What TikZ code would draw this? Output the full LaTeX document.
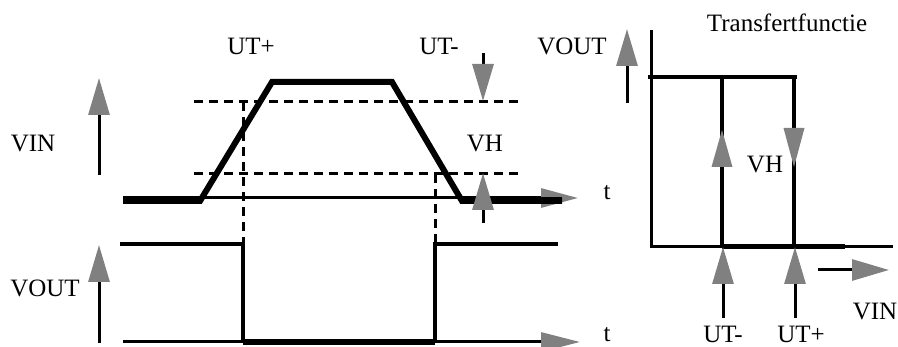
\documentclass[tikz,border=0pt]{standalone}
\usepackage{fontspec}
\setmainfont{Liberation Serif}
\usetikzlibrary{arrows.meta}
\definecolor{headgray}{RGB}{128,128,128}
\begin{document}
\begin{tikzpicture}[x=1pt,y=-1pt,
  lbl/.style={inner sep=0pt,anchor=base,font=\fontsize{25}{29}\selectfont},
  sig/.style={line width=6pt,line join=miter,line cap=butt},
  mid/.style={line width=4pt,line cap=butt},
  thin/.style={line width=3pt},
  dsh/.style={line width=3pt,dash pattern=on 9pt off 6pt},
  garrow/.style={line width=3pt,-{Triangle[length=37pt,width=21pt,color=headgray]}},
  ghead/.style={fill=headgray,draw=none}
]
\useasboundingbox (0,0) rectangle (898,347);

% ---------- coordinates ----------
\coordinate (b0) at (123,198);
\coordinate (b1) at (578,198);
\coordinate (s0) at (123,201);
\coordinate (s1) at (200,201);
\coordinate (s2) at (272,82);
\coordinate (s3) at (392,82);
\coordinate (s4) at (462,201);
\coordinate (s5) at (562,201);
\coordinate (du0) at (194,102);
\coordinate (du1) at (522,102);
\coordinate (dl0) at (194,174);
\coordinate (dl1) at (522,174);
\coordinate (vd1a) at (243,102);
\coordinate (vd1b) at (243,244);
\coordinate (vd2a) at (435,174);
\coordinate (vd2b) at (435,244);

% ---------- top plot ----------
\draw[thin,-{Triangle[length=37pt,width=19pt,color=headgray]}] (b0) -- (b1);
\draw[sig] (s0) -- (s1) -- (s2) -- (s3) -- (s4) -- (s5);
\draw[sig,line width=7pt] (s0) -- (s1);
\draw[sig,line width=7pt] (s4) -- (s5);
\draw[dsh] (du0) -- (du1);
\draw[dsh] (dl0) -- (dl1);
\draw[dsh] (vd1a) -- (vd1b);
\draw[dsh] (vd2a) -- (vd2b);

% VIN arrow
\coordinate (vinA) at (99,175);
\coordinate (vinB) at (99,78);
\draw[garrow] (vinA) -- (vinB);
% UT- arrow (down)
\coordinate (utmA) at (483,53);
\coordinate (utmB) at (483,101);
\draw[garrow] (utmA) -- (utmB);
% VH arrow (up)
\coordinate (vhA) at (483,223);
\coordinate (vhB) at (483,173);
\draw[garrow] (vhA) -- (vhB);

% ---------- bottom plot ----------
\coordinate (o0) at (120,244);
\coordinate (o1) at (243,244);
\coordinate (o2) at (243,342);
\coordinate (o3) at (435,342);
\coordinate (o4) at (435,244);
\coordinate (o5) at (558,244);
\coordinate (ob0) at (123,342);
\coordinate (ob1) at (580,342);
\draw[thin,-{Triangle[length=39pt,width=19pt,color=headgray]}] (ob0) -- (ob1);
\draw[mid,line join=miter] (o0) -- (o1) -- (o2);
\draw[line width=5.5pt] (o2) -- (o3);
\draw[mid,line join=miter] (o3) -- (o4) -- (o5);
\coordinate (voA) at (99,343);
\coordinate (voB) at (99,245);
\draw[garrow] (voA) -- (voB);

% ---------- transfer function ----------
\coordinate (ax0) at (651,30);
\coordinate (ax1) at (651,247);
\coordinate (ax2) at (893,247);
\draw[thin,line join=miter] (ax0) -- (ax1) -- (ax2);
\coordinate (t0) at (648,77);
\coordinate (t1) at (797,77);
\draw[mid] (t0) -- (t1);
\coordinate (u1a) at (722,77);
\coordinate (u1b) at (722,247);
\coordinate (u2a) at (794,77);
\coordinate (u2b) at (794,247);
\draw[mid] (u1a) -- (u1b);
\draw[mid] (u2a) -- (u2b);
\coordinate (tb0) at (722,247);
\coordinate (tb1) at (845,247);
\draw[line width=5pt] (tb0) -- (tb1);
% heads on the loop
\fill[ghead] (722,130) -- (711.5,167) -- (732.5,167) -- cycle;
\fill[ghead] (794,167) -- (783.5,128) -- (804.5,128) -- cycle;
% arrows from below
\coordinate (ua1) at (723,318);
\coordinate (ub1) at (723,247);
\coordinate (ua2) at (795,318);
\coordinate (ub2) at (795,247);
\draw[garrow] (ua1) -- (ub1);
\draw[garrow] (ua2) -- (ub2);
% VIN right arrow
\coordinate (vrA) at (818,270);
\coordinate (vrB) at (889,270);
\draw[garrow] (vrA) -- (vrB);
% VOUT top arrow
\coordinate (vtA) at (627,103);
\coordinate (vtB) at (627,29);
\draw[garrow] (vtA) -- (vtB);

% ---------- labels ----------
\node[lbl] (lutp) at (251,55) {UT+};
\node[lbl] (lutm) at (439,55) {UT-};
\node[lbl] (lvout1) at (572,55) {VOUT};
\node[lbl] (ltf) at (787,32) {Transfertfunctie};
\node[lbl] (lvin1) at (33,152) {VIN};
\node[lbl] (lvh1) at (485,152) {VH};
\node[lbl] (lt1) at (607,200) {t};
\node[lbl] (lvout2) at (45,297) {VOUT};
\node[lbl] (lt2) at (607,342) {t};
\node[lbl] (lvh2) at (765,173) {VH};
\node[lbl] (lutm2) at (723,343) {UT-};
\node[lbl] (lutp2) at (801,343) {UT+};
\node[lbl] (lvin2) at (875,320) {VIN};
\end{tikzpicture}
\end{document}
